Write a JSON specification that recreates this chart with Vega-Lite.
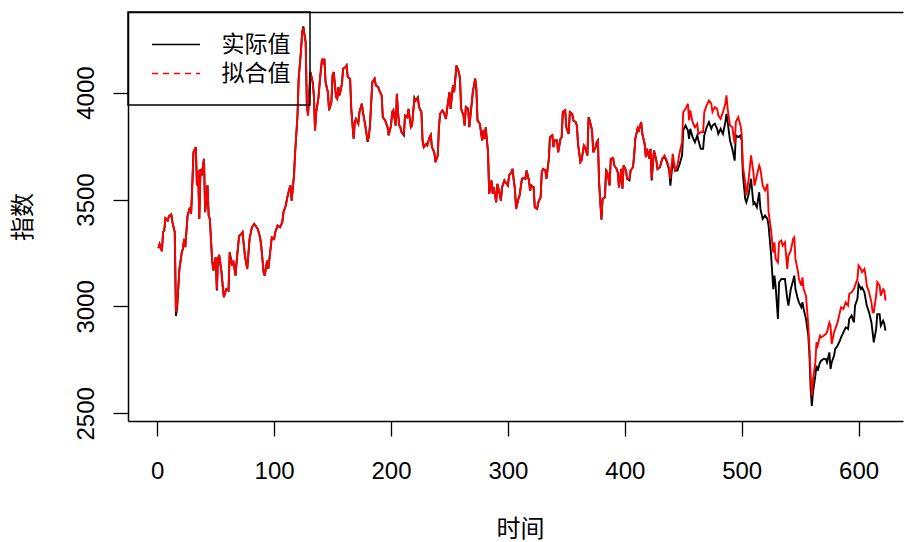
{
  "$schema": "https://vega.github.io/schema/vega-lite/v6.json",
  "autosize": "none",
  "width": 775,
  "height": 409,
  "padding": {"left": 128, "top": 12, "right": 1, "bottom": 121},
  "background": "white",
  "config": {"view": {"stroke": null}},
  "data": {"values": [
    {"t":1,"a":3272,"f":3272},{"t":2,"a":3292,"f":3292},{"t":4,"a":3258,"f":3258},{"t":5,"a":3347,"f":3347},{"t":6,"a":3355,"f":3355},{"t":7,"a":3412,"f":3412},{"t":9,"a":3402,"f":3402},{"t":10,"a":3422,"f":3422},{"t":12,"a":3431,"f":3431},{"t":13,"a":3394,"f":3394},{"t":15,"a":3347,"f":3347},{"t":16,"a":2955,"f":2975},{"t":17,"a":2990,"f":3004},{"t":19,"a":3175,"f":3175},{"t":21,"a":3253,"f":3253},{"t":22,"a":3269,"f":3269},{"t":23,"a":3316,"f":3316},{"t":24,"a":3277,"f":3277},{"t":26,"a":3425,"f":3425},{"t":28,"a":3464,"f":3464},{"t":29,"a":3433,"f":3433},{"t":30,"a":3566,"f":3566},{"t":31,"a":3721,"f":3721},{"t":33,"a":3745,"f":3745},{"t":34,"a":3566,"f":3566},{"t":35,"a":3636,"f":3636},{"t":36,"a":3409,"f":3409},{"t":37,"a":3643,"f":3643},{"t":38,"a":3612,"f":3612},{"t":40,"a":3690,"f":3690},{"t":41,"a":3441,"f":3441},{"t":43,"a":3566,"f":3566},{"t":44,"a":3425,"f":3425},{"t":45,"a":3409,"f":3409},{"t":47,"a":3214,"f":3214},{"t":48,"a":3168,"f":3168},{"t":50,"a":3230,"f":3230},{"t":51,"a":3075,"f":3081},{"t":52,"a":3222,"f":3222},{"t":53,"a":3241,"f":3241},{"t":55,"a":3160,"f":3160},{"t":56,"a":3097,"f":3097},{"t":57,"a":3043,"f":3043},{"t":59,"a":3081,"f":3081},{"t":61,"a":3074,"f":3074},{"t":62,"a":3253,"f":3253},{"t":64,"a":3191,"f":3191},{"t":65,"a":3214,"f":3214},{"t":67,"a":3144,"f":3144},{"t":68,"a":3214,"f":3214},{"t":70,"a":3328,"f":3328},{"t":72,"a":3339,"f":3339},{"t":73,"a":3347,"f":3347},{"t":75,"a":3238,"f":3238},{"t":77,"a":3175,"f":3175},{"t":79,"a":3316,"f":3316},{"t":81,"a":3370,"f":3370},{"t":83,"a":3386,"f":3386},{"t":84,"a":3378,"f":3378},{"t":86,"a":3362,"f":3362},{"t":88,"a":3323,"f":3323},{"t":89,"a":3280,"f":3285},{"t":91,"a":3160,"f":3160},{"t":92,"a":3144,"f":3144},{"t":94,"a":3214,"f":3214},{"t":95,"a":3175,"f":3175},{"t":96,"a":3222,"f":3222},{"t":98,"a":3323,"f":3323},{"t":100,"a":3316,"f":3316},{"t":101,"a":3347,"f":3347},{"t":103,"a":3378,"f":3378},{"t":105,"a":3370,"f":3370},{"t":107,"a":3394,"f":3394},{"t":108,"a":3441,"f":3441},{"t":110,"a":3472,"f":3472},{"t":111,"a":3503,"f":3503},{"t":113,"a":3550,"f":3550},{"t":114,"a":3566,"f":3566},{"t":115,"a":3495,"f":3495},{"t":117,"a":3612,"f":3612},{"t":118,"a":3721,"f":3721},{"t":120,"a":3893,"f":3893},{"t":121,"a":4065,"f":4065},{"t":123,"a":4200,"f":4190},{"t":124,"a":4283,"f":4283},{"t":125,"a":4310,"f":4302},{"t":127,"a":4236,"f":4236},{"t":128,"a":3940,"f":3940},{"t":129,"a":3893,"f":3893},{"t":130,"a":3987,"f":3987},{"t":131,"a":4096,"f":4096},{"t":133,"a":4049,"f":4049},{"t":134,"a":3987,"f":3987},{"t":135,"a":3823,"f":3823},{"t":136,"a":3909,"f":3909},{"t":138,"a":3979,"f":3979},{"t":139,"a":4049,"f":4049},{"t":141,"a":4158,"f":4158},{"t":142,"a":4143,"f":4143},{"t":143,"a":4158,"f":4158},{"t":144,"a":4049,"f":4049},{"t":146,"a":4002,"f":4002},{"t":147,"a":3917,"f":3917},{"t":149,"a":3956,"f":3956},{"t":150,"a":4081,"f":4081},{"t":151,"a":4096,"f":4096},{"t":153,"a":3979,"f":3979},{"t":154,"a":3971,"f":3971},{"t":155,"a":4026,"f":4026},{"t":156,"a":3987,"f":3987},{"t":158,"a":4041,"f":4041},{"t":159,"a":4111,"f":4111},{"t":161,"a":4119,"f":4119},{"t":162,"a":4127,"f":4127},{"t":163,"a":4073,"f":4073},{"t":165,"a":4065,"f":4065},{"t":166,"a":3924,"f":3924},{"t":168,"a":3784,"f":3784},{"t":169,"a":3862,"f":3862},{"t":170,"a":3877,"f":3877},{"t":172,"a":3854,"f":3854},{"t":173,"a":3909,"f":3909},{"t":175,"a":3948,"f":3948},{"t":176,"a":3909,"f":3909},{"t":178,"a":3846,"f":3846},{"t":180,"a":3770,"f":3776},{"t":181,"a":3792,"f":3792},{"t":182,"a":3846,"f":3846},{"t":184,"a":4049,"f":4049},{"t":186,"a":4065,"f":4065},{"t":187,"a":4034,"f":4034},{"t":189,"a":4026,"f":4026},{"t":190,"a":4010,"f":4010},{"t":192,"a":3987,"f":3987},{"t":193,"a":3885,"f":3885},{"t":195,"a":3870,"f":3870},{"t":197,"a":3838,"f":3838},{"t":198,"a":3800,"f":3800},{"t":200,"a":3846,"f":3846},{"t":201,"a":3909,"f":3909},{"t":202,"a":3917,"f":3917},{"t":204,"a":3846,"f":3846},{"t":205,"a":3994,"f":3994},{"t":206,"a":3909,"f":3909},{"t":207,"a":3846,"f":3846},{"t":208,"a":3838,"f":3838},{"t":209,"a":3815,"f":3815},{"t":211,"a":3800,"f":3807},{"t":212,"a":3893,"f":3893},{"t":214,"a":3885,"f":3885},{"t":215,"a":3924,"f":3924},{"t":217,"a":3838,"f":3838},{"t":218,"a":3846,"f":3846},{"t":220,"a":3975,"f":3971},{"t":221,"a":3963,"f":3963},{"t":223,"a":3978,"f":3974},{"t":224,"a":3932,"f":3932},{"t":226,"a":3909,"f":3909},{"t":227,"a":3776,"f":3776},{"t":228,"a":3745,"f":3745},{"t":230,"a":3760,"f":3760},{"t":231,"a":3753,"f":3753},{"t":233,"a":3792,"f":3792},{"t":234,"a":3802,"f":3802},{"t":235,"a":3745,"f":3745},{"t":237,"a":3721,"f":3721},{"t":238,"a":3675,"f":3675},{"t":240,"a":3706,"f":3706},{"t":241,"a":3838,"f":3838},{"t":242,"a":3901,"f":3901},{"t":244,"a":3917,"f":3917},{"t":245,"a":3909,"f":3909},{"t":247,"a":3877,"f":3877},{"t":248,"a":3924,"f":3924},{"t":250,"a":4002,"f":4002},{"t":251,"a":3924,"f":3924},{"t":253,"a":4034,"f":4034},{"t":254,"a":4002,"f":4002},{"t":256,"a":4127,"f":4127},{"t":258,"a":4096,"f":4096},{"t":259,"a":4065,"f":4065},{"t":260,"a":3924,"f":3924},{"t":262,"a":3893,"f":3893},{"t":263,"a":3846,"f":3846},{"t":264,"a":3932,"f":3932},{"t":266,"a":3924,"f":3924},{"t":267,"a":3838,"f":3838},{"t":268,"a":3893,"f":3893},{"t":270,"a":4002,"f":4002},{"t":272,"a":4065,"f":4065},{"t":273,"a":4018,"f":4018},{"t":274,"a":3870,"f":3870},{"t":276,"a":3854,"f":3854},{"t":278,"a":3776,"f":3776},{"t":279,"a":3823,"f":3823},{"t":280,"a":3784,"f":3784},{"t":281,"a":3838,"f":3838},{"t":283,"a":3721,"f":3721},{"t":284,"a":3526,"f":3526},{"t":286,"a":3589,"f":3589},{"t":287,"a":3526,"f":3526},{"t":288,"a":3557,"f":3557},{"t":290,"a":3487,"f":3487},{"t":291,"a":3573,"f":3573},{"t":293,"a":3526,"f":3526},{"t":294,"a":3495,"f":3495},{"t":295,"a":3557,"f":3557},{"t":297,"a":3589,"f":3589},{"t":298,"a":3581,"f":3581},{"t":300,"a":3566,"f":3566},{"t":301,"a":3612,"f":3612},{"t":303,"a":3628,"f":3628},{"t":304,"a":3643,"f":3643},{"t":305,"a":3589,"f":3589},{"t":306,"a":3550,"f":3550},{"t":307,"a":3456,"f":3456},{"t":309,"a":3503,"f":3503},{"t":310,"a":3519,"f":3519},{"t":312,"a":3597,"f":3597},{"t":313,"a":3600,"f":3600},{"t":315,"a":3597,"f":3597},{"t":316,"a":3636,"f":3636},{"t":318,"a":3589,"f":3589},{"t":319,"a":3542,"f":3542},{"t":320,"a":3566,"f":3566},{"t":322,"a":3557,"f":3557},{"t":323,"a":3464,"f":3464},{"t":325,"a":3456,"f":3456},{"t":326,"a":3487,"f":3487},{"t":328,"a":3511,"f":3511},{"t":329,"a":3628,"f":3628},{"t":330,"a":3643,"f":3643},{"t":332,"a":3636,"f":3636},{"t":333,"a":3597,"f":3597},{"t":335,"a":3690,"f":3690},{"t":336,"a":3792,"f":3792},{"t":338,"a":3800,"f":3800},{"t":339,"a":3745,"f":3745},{"t":340,"a":3776,"f":3776},{"t":342,"a":3776,"f":3776},{"t":343,"a":3721,"f":3721},{"t":345,"a":3784,"f":3784},{"t":346,"a":3792,"f":3792},{"t":347,"a":3909,"f":3909},{"t":349,"a":3917,"f":3917},{"t":350,"a":3838,"f":3838},{"t":352,"a":3807,"f":3807},{"t":353,"a":3909,"f":3909},{"t":355,"a":3901,"f":3901},{"t":356,"a":3870,"f":3870},{"t":358,"a":3862,"f":3862},{"t":359,"a":3846,"f":3846},{"t":360,"a":3760,"f":3760},{"t":362,"a":3675,"f":3675},{"t":363,"a":3683,"f":3683},{"t":365,"a":3753,"f":3753},{"t":366,"a":3745,"f":3745},{"t":368,"a":3706,"f":3706},{"t":369,"a":3885,"f":3877},{"t":370,"a":3870,"f":3870},{"t":372,"a":3823,"f":3823},{"t":373,"a":3721,"f":3721},{"t":375,"a":3745,"f":3745},{"t":376,"a":3768,"f":3768},{"t":377,"a":3776,"f":3776},{"t":378,"a":3581,"f":3581},{"t":380,"a":3405,"f":3409},{"t":381,"a":3503,"f":3503},{"t":383,"a":3511,"f":3511},{"t":384,"a":3636,"f":3636},{"t":385,"a":3628,"f":3628},{"t":387,"a":3566,"f":3566},{"t":388,"a":3690,"f":3690},{"t":390,"a":3694,"f":3694},{"t":391,"a":3659,"f":3659},{"t":393,"a":3643,"f":3643},{"t":394,"a":3628,"f":3628},{"t":395,"a":3557,"f":3557},{"t":397,"a":3643,"f":3643},{"t":398,"a":3550,"f":3550},{"t":399,"a":3659,"f":3659},{"t":401,"a":3636,"f":3636},{"t":402,"a":3597,"f":3597},{"t":404,"a":3590,"f":3597},{"t":405,"a":3636,"f":3636},{"t":407,"a":3651,"f":3651},{"t":408,"a":3706,"f":3706},{"t":409,"a":3784,"f":3784},{"t":411,"a":3834,"f":3834},{"t":412,"a":3823,"f":3823},{"t":414,"a":3862,"f":3862},{"t":415,"a":3807,"f":3807},{"t":417,"a":3760,"f":3760},{"t":418,"a":3698,"f":3698},{"t":419,"a":3737,"f":3737},{"t":421,"a":3690,"f":3690},{"t":422,"a":3737,"f":3737},{"t":423,"a":3589,"f":3597},{"t":425,"a":3729,"f":3729},{"t":427,"a":3682,"f":3682},{"t":428,"a":3643,"f":3643},{"t":430,"a":3651,"f":3651},{"t":432,"a":3690,"f":3690},{"t":434,"a":3700,"f":3706},{"t":436,"a":3675,"f":3682},{"t":438,"a":3636,"f":3643},{"t":439,"a":3565,"f":3597},{"t":441,"a":3682,"f":3714},{"t":443,"a":3636,"f":3638},{"t":445,"a":3636,"f":3659},{"t":447,"a":3667,"f":3721},{"t":449,"a":3706,"f":3768},{"t":450,"a":3823,"f":3909},{"t":452,"a":3846,"f":3924},{"t":454,"a":3823,"f":3948},{"t":455,"a":3784,"f":3870},{"t":456,"a":3831,"f":3917},{"t":458,"a":3792,"f":3862},{"t":460,"a":3768,"f":3838},{"t":462,"a":3800,"f":3854},{"t":463,"a":3776,"f":3807},{"t":465,"a":3737,"f":3815},{"t":467,"a":3737,"f":3815},{"t":468,"a":3800,"f":3909},{"t":470,"a":3838,"f":3940},{"t":472,"a":3862,"f":3963},{"t":474,"a":3831,"f":3948},{"t":475,"a":3846,"f":3909},{"t":477,"a":3854,"f":3932},{"t":479,"a":3831,"f":3924},{"t":480,"a":3807,"f":3893},{"t":482,"a":3831,"f":3877},{"t":484,"a":3807,"f":3909},{"t":486,"a":3862,"f":3948},{"t":487,"a":3901,"f":3987},{"t":488,"a":3862,"f":3924},{"t":490,"a":3776,"f":3846},{"t":492,"a":3737,"f":3838},{"t":494,"a":3682,"f":3760},{"t":495,"a":3800,"f":3862},{"t":497,"a":3792,"f":3885},{"t":499,"a":3800,"f":3846},{"t":500,"a":3776,"f":3807},{"t":501,"a":3620,"f":3659},{"t":503,"a":3503,"f":3581},{"t":504,"a":3487,"f":3519},{"t":506,"a":3526,"f":3597},{"t":508,"a":3597,"f":3706},{"t":510,"a":3480,"f":3628},{"t":511,"a":3487,"f":3565},{"t":513,"a":3464,"f":3612},{"t":515,"a":3534,"f":3659},{"t":516,"a":3456,"f":3643},{"t":518,"a":3409,"f":3565},{"t":520,"a":3425,"f":3542},{"t":522,"a":3409,"f":3573},{"t":523,"a":3378,"f":3441},{"t":525,"a":3253,"f":3362},{"t":527,"a":3081,"f":3253},{"t":528,"a":3144,"f":3300},{"t":529,"a":3097,"f":3222},{"t":531,"a":2941,"f":3206},{"t":532,"a":3113,"f":3300},{"t":534,"a":3128,"f":3308},{"t":535,"a":3128,"f":3284},{"t":537,"a":3128,"f":3300},{"t":539,"a":3035,"f":3175},{"t":540,"a":3004,"f":3238},{"t":542,"a":3081,"f":3261},{"t":544,"a":3121,"f":3316},{"t":545,"a":3144,"f":3323},{"t":546,"a":3081,"f":3222},{"t":548,"a":3035,"f":3167},{"t":549,"a":3019,"f":3128},{"t":551,"a":2996,"f":3097},{"t":552,"a":3019,"f":3136},{"t":553,"a":2988,"f":3081},{"t":555,"a":2941,"f":3050},{"t":557,"a":2863,"f":2910},{"t":558,"a":2769,"f":2801},{"t":559,"a":2613,"f":2676},{"t":560,"a":2535,"f":2582},{"t":561,"a":2598,"f":2660},{"t":563,"a":2676,"f":2738},{"t":564,"a":2723,"f":2832},{"t":565,"a":2699,"f":2816},{"t":567,"a":2738,"f":2863},{"t":568,"a":2746,"f":2855},{"t":570,"a":2754,"f":2863},{"t":572,"a":2754,"f":2871},{"t":573,"a":2738,"f":2879},{"t":575,"a":2785,"f":2925},{"t":576,"a":2707,"f":2910},{"t":577,"a":2738,"f":2824},{"t":579,"a":2769,"f":2879},{"t":580,"a":2801,"f":2894},{"t":582,"a":2816,"f":2925},{"t":584,"a":2840,"f":2972},{"t":585,"a":2855,"f":2996},{"t":587,"a":2879,"f":2988},{"t":589,"a":2902,"f":3019},{"t":591,"a":2894,"f":3004},{"t":592,"a":2941,"f":3058},{"t":594,"a":2957,"f":3066},{"t":596,"a":2925,"f":3081},{"t":597,"a":3004,"f":3097},{"t":599,"a":3035,"f":3128},{"t":600,"a":3105,"f":3191},{"t":602,"a":3081,"f":3175},{"t":603,"a":3089,"f":3160},{"t":605,"a":3066,"f":3175},{"t":606,"a":3035,"f":3144},{"t":607,"a":3004,"f":3097},{"t":609,"a":2972,"f":3066},{"t":611,"a":2925,"f":3019},{"t":612,"a":2879,"f":2972},{"t":613,"a":2832,"f":2972},{"t":615,"a":2894,"f":3050},{"t":616,"a":2964,"f":3113},{"t":618,"a":2964,"f":3097},{"t":619,"a":2910,"f":3050},{"t":621,"a":2933,"f":3081},{"t":622,"a":2918,"f":3074},{"t":623,"a":2887,"f":3027}
  ]},
  "layer": [
    {
      "mark": {"type": "line", "strokeWidth": 1.9, "clip": true},
      "encoding": {
        "x": {"field": "t", "type": "quantitative",
          "scale": {"domain": [-25, 638], "nice": false, "zero": false},
          "axis": {"orient": "bottom", "values": [0,100,200,300,400,500,600], "format": "d", "grid": false,
            "domain": true, "domainColor": "black", "domainWidth": 1.5,
            "tickSize": 15, "tickColor": "black", "tickWidth": 1.3,
            "labelFont": "Liberation Sans", "labelFontSize": 24, "labelColor": "black",
            "labelBaseline": "alphabetic", "labelPadding": 42, "labelFlush": false, "labelOverlap": false,
            "title": "时间", "titleFont": "Noto Sans CJK SC", "titleFontSize": 24, "titleFontWeight": "normal", "titleColor": "black",
            "titleX": 392, "titleY": 115, "titleAlign": "center", "titleBaseline": "alphabetic", "titleAnchor": null}},
        "y": {"field": "a", "type": "quantitative",
          "scale": {"domain": [2464, 4377], "nice": false, "zero": false},
          "axis": {"values": [2500,3000,3500,4000], "format": "d", "grid": false,
            "domain": true, "domainColor": "black", "domainWidth": 1.5,
            "tickSize": 15, "tickColor": "black", "tickWidth": 1.3,
            "labelFont": "Liberation Sans", "labelFontSize": 24, "labelColor": "black",
            "labelAngle": 270, "labelAlign": "center", "labelBaseline": "alphabetic", "labelPadding": 19.5, "labelFlush": false, "labelOverlap": false,
            "title": "指数", "titleFont": "Noto Sans CJK SC", "titleFontSize": 24, "titleFontWeight": "normal", "titleColor": "black",
            "titleAngle": 270, "titleX": -98, "titleY": 204.5, "titleAlign": "center", "titleBaseline": "alphabetic", "titleAnchor": null}},
        "color": {"datum": "实际值",
          "scale": {"domain": ["实际值", "拟合值"], "range": ["#000000", "#ff0000"]},
          "legend": {"orient": "none", "legendX": 0, "legendY": 0, "title": null, "direction": "vertical",
            "symbolType": "M-2,0H2", "symbolSize": 576, "symbolStrokeWidth": 1.5, "symbolOffset": 15.5,
            "labelOffset": 32.5, "labelFont": "Noto Sans CJK SC", "labelFontSize": 23, "labelColor": "black",
            "rowPadding": 4, "padding": 19.5, "strokeColor": "black",
            "encode": {
              "symbols": {"update": {"strokeDash": {"signal": "datum.value === '拟合值' ? [6, 5] : [1, 0]"}, "fill": {"value": "transparent"}}},
              "legend": {"update": {"strokeWidth": {"value": 1.5}}}
            }}}
      }
    },
    {
      "mark": {"type": "line", "strokeWidth": 1.9, "clip": true},
      "encoding": {
        "x": {"field": "t", "type": "quantitative",
          "axis": {"orient": "top", "labels": false, "ticks": false, "grid": false, "domain": true, "domainColor": "black", "domainWidth": 1.5, "title": null}},
        "y": {"field": "f", "type": "quantitative"},
        "color": {"datum": "拟合值"}
      }
    }
  ],
  "resolve": {"axis": {"x": "independent"}}
}
